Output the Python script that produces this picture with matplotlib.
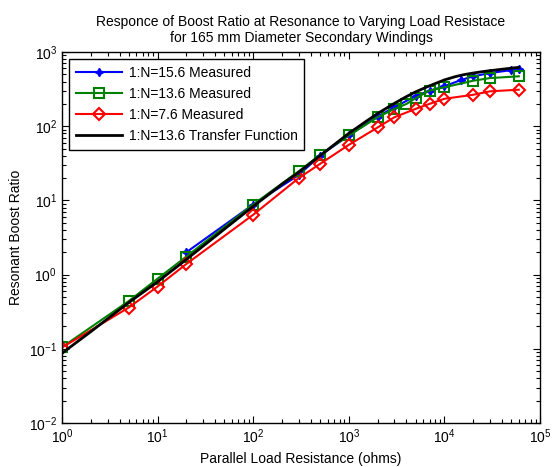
import matplotlib
matplotlib.use("Agg")
import matplotlib.pyplot as plt
from matplotlib.ticker import LogLocator, NullFormatter

plt.rcParams['font.family'] = ['Liberation Sans', 'DejaVu Sans']
plt.rcParams['mathtext.fontset'] = 'custom'
plt.rcParams['mathtext.rm'] = 'Liberation Sans'
plt.rcParams['mathtext.it'] = 'Liberation Sans:italic'
plt.rcParams['mathtext.bf'] = 'Liberation Sans:bold'

# ---- data ----
blue_x = [20, 100, 300, 500, 1000, 2000, 3000, 5000, 7000, 10000, 15000, 20000, 30000, 50000, 60000]
blue_y = [2.0, 8.8, 22, 40, 75, 135, 180, 255, 300, 345, 420, 470, 520, 570, 590]

green_x = [1, 5, 10, 20, 100, 300, 500, 1000, 2000, 3000, 4000, 5000, 7000, 10000, 20000, 30000, 60000]
green_y = [0.105, 0.44, 0.88, 1.75, 8.8, 24.7, 41, 75, 132, 171, 199, 238, 302, 334, 410, 445, 470]

red_x = [1, 5, 10, 20, 100, 300, 500, 1000, 2000, 3000, 5000, 7000, 10000, 20000, 30000, 60000]
red_y = [0.104, 0.36, 0.69, 1.39, 6.4, 20, 31, 56, 96, 132, 171, 200, 234, 265, 295, 310]

tf_x = [1, 2, 5, 10, 20, 50, 100, 200, 300, 500, 700, 1000, 1500, 2000, 3000, 4000, 5000, 7000,
        10000, 13000, 16000, 20000, 25000, 30000, 40000, 50000, 60000]
tf_y = [0.087, 0.17, 0.42, 0.80, 1.6, 4.1, 8.3, 16.5, 24, 40, 56, 80, 115, 148, 203, 250, 290, 350,
        420, 465, 495, 520, 543, 560, 585, 605, 620]

labels = ['1:N=15.6 Measured', '1:N=13.6 Measured', '1:N=7.6 Measured', '1:N=13.6 Transfer Function']
title = 'Responce of Boost Ratio at Resonance to Varying Load Resistace\nfor 165 mm Diameter Secondary Windings'
xlabel = 'Parallel Load Resistance (ohms)'
ylabel = 'Resonant Boost Ratio'

fig = plt.figure(figsize=(5.53, 4.67), dpi=100)
ax = fig.add_axes([0.112, 0.0942, 0.8645, 0.7945])

ax.plot(blue_x, blue_y, color='#0000ff', lw=1.5, marker=(4, 1, 0), ms=6, label=labels[0])
ax.plot(green_x, green_y, color='#008000', lw=1.5, marker='s', ms=7, mfc='none', mew=1.5, label=labels[1])
ax.plot(red_x, red_y, color='#ff0000', lw=1.5, marker='D', ms=6, mfc='none', mew=1.5, label=labels[2])
ax.plot(tf_x, tf_y, color='black', lw=2, label=labels[3])

ax.set_xscale('log')
ax.set_yscale('log')
ax.set_xlim(1, 1e5)
ax.set_ylim(1e-2, 1e3)

ax.xaxis.set_major_locator(LogLocator(base=10, numticks=10))
ax.yaxis.set_major_locator(LogLocator(base=10, numticks=10))
ax.xaxis.set_minor_locator(LogLocator(base=10, subs=range(2, 10), numticks=20))
ax.yaxis.set_minor_locator(LogLocator(base=10, subs=range(2, 10), numticks=20))
ax.xaxis.set_minor_formatter(NullFormatter())
ax.yaxis.set_minor_formatter(NullFormatter())

ax.tick_params(which='both', direction='in', top=True, right=True, labelsize=10, width=0.8)
ax.tick_params(which='major', length=5)
ax.tick_params(which='minor', length=3)
for s in ax.spines.values():
    s.set_linewidth(1.0)

ax.set_title(title, fontsize=10, pad=7)
ax.set_xlabel(xlabel, fontsize=10)
ax.set_ylabel(ylabel, fontsize=10)

leg = ax.legend(loc='upper left', fontsize=10, frameon=True, fancybox=False,
                edgecolor='black', framealpha=1, handlelength=3.3, handletextpad=0.5,
                borderaxespad=0.5, labelspacing=0.5, borderpad=0.5)
leg.get_frame().set_linewidth(1.0)

fig.savefig('out.png', dpi=100)
